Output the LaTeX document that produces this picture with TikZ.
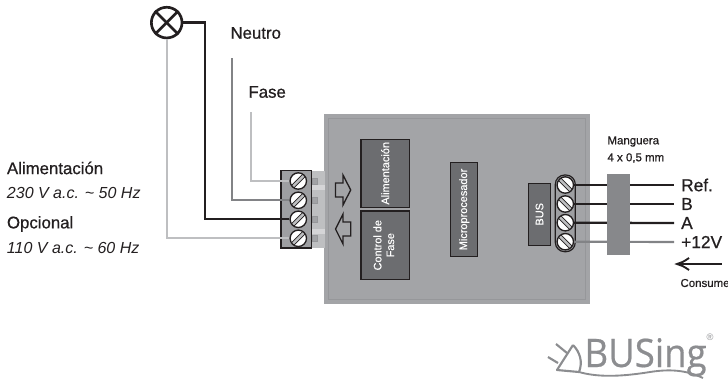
\documentclass[tikz,border=0pt]{standalone}
\usepackage{fontspec}
\setmainfont{Liberation Sans}
\newfontfamily\labelfont[FakeBold=0.7]{Liberation Sans}
\newfontfamily\modulefont[FakeBold=0.3]{Liberation Sans}
\newfontfamily\logofont[FakeBold=0.5]{Open Sans}
\definecolor{boxgray}{RGB}{163,164,167}
\definecolor{edgegray}{RGB}{150,151,154}
\definecolor{blockgray}{RGB}{158,159,162}
\definecolor{plugray}{RGB}{190,191,193}
\definecolor{modgray}{RGB}{108,109,112}
\definecolor{hosegray}{RGB}{135,136,139}
\definecolor{wirelight}{RGB}{190,191,193}
\definecolor{wiremid}{RGB}{130,131,134}
\definecolor{ink}{RGB}{35,31,32}
\definecolor{logogray}{RGB}{140,141,144}

\tikzset{every picture/.style={line width=0.75pt}}
\tikzset{
  module/.style={draw=ink,fill=modgray,line width=0.9pt,text=white,align=center,font=\modulefont\fontsize{8.2}{9.5}\selectfont,inner sep=0pt},
  screwbase/.style={circle,draw=ink,fill=white,line width=1pt,minimum size=12.3pt,inner sep=0pt},
  screwleft/.style={screwbase,path picture={
    \draw [ink,line width=3.2pt] ([shift={(-12,-12)}]path picture bounding box.center) -- ([shift={(12,12)}]path picture bounding box.center);
    \draw [wirelight,line width=1.9pt] ([shift={(-12,-12)}]path picture bounding box.center) -- ([shift={(12,12)}]path picture bounding box.center);}},
  screwright/.style={screwbase,path picture={
    \draw [ink,line width=3.2pt] ([shift={(-12,12)}]path picture bounding box.center) -- ([shift={(12,-12)}]path picture bounding box.center);
    \draw [wirelight,line width=1.9pt] ([shift={(-12,12)}]path picture bounding box.center) -- ([shift={(12,-12)}]path picture bounding box.center);}},
  wirelow/.style={wirelight,line width=1.6pt},
  wiremedium/.style={wiremid,line width=1.6pt},
  wirehot/.style={ink,line width=1.7pt},
  bigarrow/.style={draw=ink,line width=1pt,line join=miter},
  sidelabel/.style={anchor=west,inner sep=0.75pt,text=ink,font=\labelfont\fontsize{12.6}{14}\selectfont},
  sideitalic/.style={anchor=west,inner sep=0.75pt,text=ink,font=\fontsize{12}{14}\itshape\selectfont},
  smalllabel/.style={anchor=west,inner sep=0.75pt,text=ink,font=\labelfont\fontsize{8.6}{10}\selectfont},
  buslabel/.style={anchor=west,inner sep=5pt,text=ink,font=\labelfont\fontsize{13}{14}\selectfont},
}

\begin{document}
\begin{tikzpicture}[x=0.75pt,y=0.75pt,yscale=-1,xscale=1]
\useasboundingbox (0,0) rectangle (728,380);

% Housing
\draw [draw=none,fill=boxgray] (324,114) rectangle (590,304);
\draw [edgegray,line width=1pt] (328.5,118.5) rectangle (585.5,299.5);

% Plug and terminal block
\draw [draw=none,fill=plugray] (311.5,170.5) rectangle (325,248);
\draw [draw=none,fill=white!35!plugray] (312,185) rectangle (325,190);
\draw [draw=none,fill=white!35!plugray] (312,229) rectangle (325,234);
\foreach \y in {181,200.5,219.5,238.5}
  \draw [edgegray,fill=edgegray!70!plugray,line width=0.6pt] (312,\y-3) rectangle (317,\y+3);
\draw [draw=ink,fill=blockgray,line width=0.9pt] (281,170.5) rectangle (311.5,248);
\draw (298.3,181) node (screwone) [screwleft] {};
\draw (298.3,200.3) node (screwtwo) [screwleft] {};
\draw (298.3,219.3) node (screwthree) [screwleft] {};
\draw (298.3,238.3) node (screwfour) [screwleft] {};

% Lamp
\draw (166.7,22.6) node (lamp) [circle,draw=ink,line width=2pt,minimum size=23pt,inner sep=0pt] {};
\draw [ink,line width=2pt] (lamp.north west) -- (lamp.south east);
\draw [ink,line width=2pt] (lamp.north east) -- (lamp.south west);

% Mains wires
\coordinate (neutrotop) at (231.7,58);
\coordinate (fasetop) at (250.7,112);
\draw [wirelow] (fasetop) |- (screwone.west);
\draw [wiremedium] (neutrotop) |- (screwtwo.west);
\draw [wirehot] (lamp.east) -| (205,60) |- (screwthree.west);
\draw [wirelow] (lamp.south) |- (screwfour.west);

% Arrows
\draw [bigarrow] (335.5,183) -- (343,183) -- (343,175) -- (350.7,190) -- (343,205) -- (343,197) -- (335.5,197) -- cycle;
\draw [bigarrow] (350.7,222) -- (343,222) -- (343,214) -- (335.5,229) -- (343,244) -- (343,236) -- (350.7,236) -- cycle;

% Modules
\draw (385.2,173.3) node (alimentacion) [module,minimum width=36.2pt,minimum height=51pt] {\rotatebox{90}{Alimentación}};
\draw (385.2,245.2) node (control) [module,minimum width=36.2pt,minimum height=51.2pt] {\rotatebox{90}{\begin{tabular}{@{}c@{}}Control de\\Fase\end{tabular}}};
\draw (464.2,209.5) node (micro) [module,minimum width=20.2pt,minimum height=70.8pt] {\rotatebox{90}{Microprocesador}};
\draw (539.5,214.3) node (bus) [module,minimum width=16.8pt,minimum height=46.5pt] {\rotatebox{90}{BUS}};

% Bus terminals
\draw [draw=ink,fill=blockgray,line width=0.9pt,rounded corners=7pt] (555.3,175) rectangle (575.3,251.7);
\draw (565.3,185) node (screwref) [screwright] {};
\draw (565.3,204) node (screwb) [screwright] {};
\draw (565.3,222.7) node (screwa) [screwright] {};
\draw (565.3,241.7) node (screwv) [screwright] {};

% Bus labels
\draw (674,185) node (labelref) [buslabel] {Ref.};
\draw (674,204) node (labelb) [buslabel] {B};
\draw (674,223) node (labela) [buslabel] {A};
\draw (674,242) node (labelv) [buslabel] {+12V};

% Bus wires
\draw [wirehot] (screwref.east) -- (labelref.west);
\draw [wirehot] (screwb.east) -- (labelb.west);
\draw [wirehot] (screwa.east) -- (labela.west);
\draw [wiremedium] (screwv.east) -- (labelv.west);
\draw (618.5,214.5) node (hose) [draw=none,fill=hosegray,minimum width=17.3pt,minimum height=60.8pt,inner sep=0pt] {};

% Consumption arrow
\coordinate (flowstart) at (721.7,264);
\coordinate (flowend) at (677,264);
\draw [ink,line width=1.6pt] (flowstart) -- (flowend);
\draw [ink,line width=1.4pt] (689,258) .. controls (684,261.5) and (681,263) .. (677,264) .. controls (681,265) and (684,266.5) .. (689,270);

% Text Node
\draw (229,33) node (neutro) [sidelabel] {Neutro};
% Text Node
\draw (247,92) node (fase) [sidelabel] {Fase};
% Text Node
\draw (5.5,168) node (alim) [sidelabel] {Alimentación};
% Text Node
\draw (5.5,193) node (volta) [sideitalic] {230 V a.c. \char`\~{} 50 Hz};
% Text Node
\draw (5.5,224) node (opc) [sidelabel] {Opcional};
% Text Node
\draw (5.5,248) node (voltb) [sideitalic] {110 V a.c. \char`\~{} 60 Hz};
% Text Node
\draw (606,141.5) node (manguera) [smalllabel] {Manguera};
% Text Node
\draw (606,158) node (seccion) [smalllabel] {4 x 0,5 mm};
% Text Node
\draw (679,283) node (consume) [smalllabel] {Consume};

% Logo
\draw (584,367) node (logo) [anchor=base west,inner sep=0pt,xscale=0.93,text=logogray,font=\logofont\fontsize{29.5}{31}\selectfont] {BUSing};
\draw (710,337) node (reg) [inner sep=0pt,text=logogray,font=\fontsize{7}{8}\selectfont] {®};
\draw [logogray,line width=1.6pt,line join=round] (573,345) -- (557,370) -- (579,372) .. controls (583,362) and (580,352) .. (573,345);
\draw [logogray,line width=1.6pt] (556,344) -- (567,353);
\draw [logogray,line width=1.6pt] (548,357) -- (558,363);
\draw [logogray,line width=1.4pt] (579,372) .. controls (600,378) and (625,376) .. (650,372) .. controls (675,368) and (690,372) .. (703,378);
\end{tikzpicture}
\end{document}
